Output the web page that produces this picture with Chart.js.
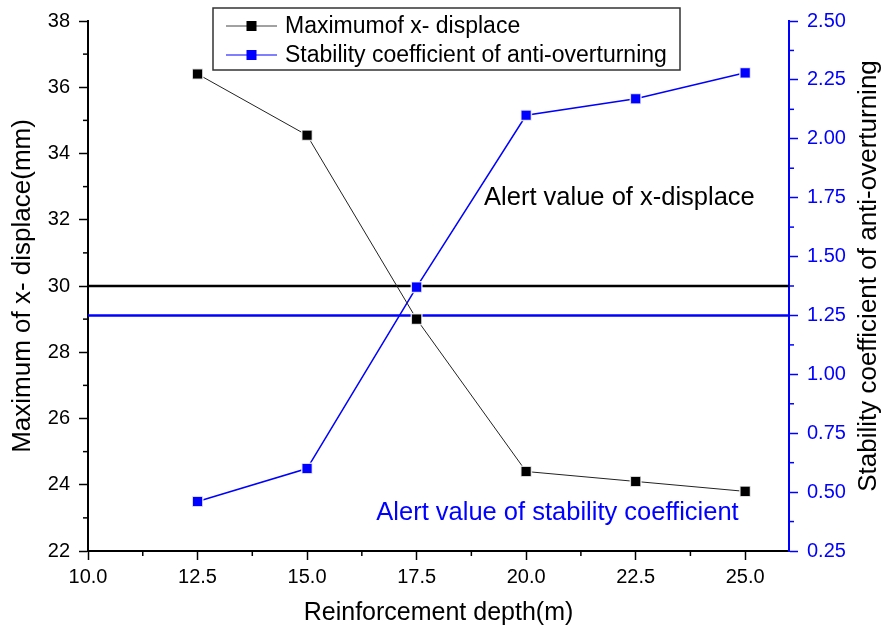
<!DOCTYPE html>
<html>
<head>
<meta charset="utf-8">
<script src="https://cdn.jsdelivr.net/npm/chart.js@4/dist/chart.umd.min.js"></script>
<style>
  html, body { margin: 0; padding: 0; background: #fff; }
  #wrap { width: 882px; height: 637px; }
</style>
</head>
<body>
<div id="wrap"><canvas id="myChart" width="882" height="637"></canvas></div>
<script>
// datos
const depths = [12.5, 15, 17.5, 20, 22.5, 25]
const maxDisplace = [36.4, 34.55, 29.0, 24.4, 24.1, 23.8]
const stability = [0.46, 0.60, 1.37, 2.10, 2.17, 2.28]
const alertDisplace = 30
const alertStability = 1.25
const xTicks = [10, 12.5, 15, 17.5, 20, 22.5, 25]
const yTicks = [22, 24, 26, 28, 30, 32, 34, 36, 38]
const y1Ticks = [0.25, 0.5, 0.75, 1, 1.25, 1.5, 1.75, 2, 2.25, 2.5]
const xRange = [10, 26]

const FONT = "'Liberation Sans', Arial, sans-serif"
const ctx = document.getElementById('myChart')

function toPoints(xs, ys) {
    return xs.map((x, i) => ({ x: x, y: ys[i] }))
}

// ticks menores, legenda, textos y titulo derecho
const extras = {
    id: 'extras',
    afterDraw(chart) {
        const c = chart.ctx
        const sx = chart.scales.x, sy = chart.scales.y, sy1 = chart.scales.y1
        const area = chart.chartArea
        c.save()
        c.lineWidth = 1.5
        // minor ticks
        c.strokeStyle = '#000'
        for (let i = 0; i < xTicks.length; i++) {
            const v = xTicks[i] + 1.25
            if (v > xRange[1]) break
            const px = sx.getPixelForValue(v)
            c.beginPath(); c.moveTo(px, area.bottom); c.lineTo(px, area.bottom + 5); c.stroke()
        }
        for (let i = 0; i < yTicks.length - 1; i++) {
            const py = sy.getPixelForValue(yTicks[i] + 1)
            c.beginPath(); c.moveTo(area.left, py); c.lineTo(area.left - 5, py); c.stroke()
        }
        c.strokeStyle = '#0000ff'
        for (let i = 0; i < y1Ticks.length - 1; i++) {
            const py = sy1.getPixelForValue(y1Ticks[i] + 0.125)
            c.beginPath(); c.moveTo(area.right, py); c.lineTo(area.right + 5, py); c.stroke()
        }

        // alert texts
        c.font = '25.5px ' + FONT
        c.textBaseline = 'middle'
        c.textAlign = 'left'
        c.fillStyle = '#000'
        c.fillText('Alert value of x-displace', sx.getPixelForValue(19.04), sy.getPixelForValue(32.66))
        c.fillStyle = '#0000ff'
        c.fillText('Alert value of stability coefficient', sx.getPixelForValue(16.58), sy.getPixelForValue(23.14))

        // right title
        c.save()
        c.translate(869, 276)
        c.rotate(-Math.PI / 2)
        c.textAlign = 'center'
        c.fillStyle = '#000'
        c.font = '26px ' + FONT
        c.fillText('Stability coefficient of anti-overturning', 0, 0)
        c.restore()

        // legend box
        c.fillStyle = '#fff'
        c.fillRect(213, 8, 467, 62)
        c.strokeStyle = '#333'
        c.lineWidth = 1.5
        c.strokeRect(213, 8, 467, 62)
        const rows = [
            { text: 'Maximumof x- displace', line: '#444', fill: '#000', y: 26 },
            { text: 'Stability coefficient of anti-overturning', line: '#0000ff', fill: '#0000ff', y: 55 }
        ]
        rows.forEach(r => {
            c.strokeStyle = r.line
            c.lineWidth = 1
            c.beginPath(); c.moveTo(226, r.y); c.lineTo(277, r.y); c.stroke()
            c.fillStyle = r.fill
            c.fillRect(246.5, r.y - 5, 10, 10)
            c.fillStyle = '#000'
            c.font = '23px ' + FONT
            c.textAlign = 'left'
            c.fillText(r.text, 285, r.y + 1)
        })
        c.restore()
    }
}

const data = {
    datasets: [{
        label: 'Maximumof x- displace',
        data: toPoints(depths, maxDisplace),
        yAxisID: 'y',
        borderColor: '#222',
        backgroundColor: '#000',
        borderWidth: 1,
        pointStyle: 'rect',
        pointRadius: 7.5,
        pointBorderColor: 'rgba(255,255,255,0.8)',
        pointBorderWidth: 1.5,
        order: 1
    },
    {
        label: 'Stability coefficient of anti-overturning',
        data: toPoints(depths, stability),
        yAxisID: 'y1',
        borderColor: '#0000ff',
        backgroundColor: '#0000ff',
        borderWidth: 1.5,
        pointStyle: 'rect',
        pointRadius: 7.5,
        pointBorderColor: 'rgba(255,255,255,0.8)',
        pointBorderWidth: 1.5,
        order: 2
    },
    {
        label: 'alerta x',
        data: toPoints(xRange, [alertDisplace, alertDisplace]),
        yAxisID: 'y',
        borderColor: '#000',
        borderWidth: 2.5,
        pointRadius: 0,
        order: 3
    },
    {
        label: 'alerta estabilidad',
        data: toPoints(xRange, [alertStability, alertStability]),
        yAxisID: 'y1',
        borderColor: '#0000ff',
        borderWidth: 2.5,
        pointRadius: 0,
        order: 4
    }]
}

new Chart(ctx, {
    type: 'line',
    data: data,
    plugins: [extras],
    options: {
        responsive: false,
        animation: false,
        layout: { padding: { top: 20 } },
        plugins: {
            legend: { display: false },
            tooltip: { enabled: false }
        },
        scales: {
            x: {
                type: 'linear',
                min: xRange[0],
                max: xRange[1],
                afterBuildTicks: s => { s.ticks = xTicks.map(v => ({ value: v })) },
                afterFit: s => { s.height = 86 },
                border: { display: true, color: '#000', width: 2 },
                grid: { drawOnChartArea: false, drawTicks: true, tickLength: 9, tickWidth: 1.5, tickColor: '#000' },
                ticks: {
                    color: '#000', padding: 5,
                    font: { family: FONT, size: 20 },
                    callback: v => v.toFixed(1)
                },
                title: {
                    display: true, text: 'Reinforcement depth(m)', color: '#000',
                    font: { family: FONT, size: 25 }, padding: { top: 0, bottom: 9 }
                }
            },
            y: {
                position: 'left',
                min: 22, max: 38,
                afterBuildTicks: s => { s.ticks = yTicks.map(v => ({ value: v })) },
                afterFit: s => { s.width = 88 },
                border: { display: true, color: '#000', width: 2 },
                grid: { drawOnChartArea: false, drawTicks: true, tickLength: 9, tickWidth: 1.5, tickColor: '#000' },
                ticks: {
                    color: '#000', padding: 9,
                    font: { family: FONT, size: 20 },
                    callback: v => v.toFixed(0)
                },
                title: {
                    display: true, text: 'Maximum of x- displace(mm)', color: '#000',
                    font: { family: FONT, size: 26 }, padding: { top: 7, bottom: 0 }
                }
            },
            y1: {
                position: 'right',
                min: 0.25, max: 2.5,
                afterBuildTicks: s => { s.ticks = y1Ticks.map(v => ({ value: v })) },
                afterFit: s => { s.width = 93 },
                border: { display: true, color: '#0000ff', width: 2 },
                grid: { drawOnChartArea: false, drawTicks: true, tickLength: 9, tickWidth: 1.5, tickColor: '#0000ff' },
                ticks: {
                    color: '#0000ff', padding: 9,
                    font: { family: FONT, size: 20 },
                    callback: v => v.toFixed(2)
                }
            }
        }
    }
});
</script>
</body>
</html>
